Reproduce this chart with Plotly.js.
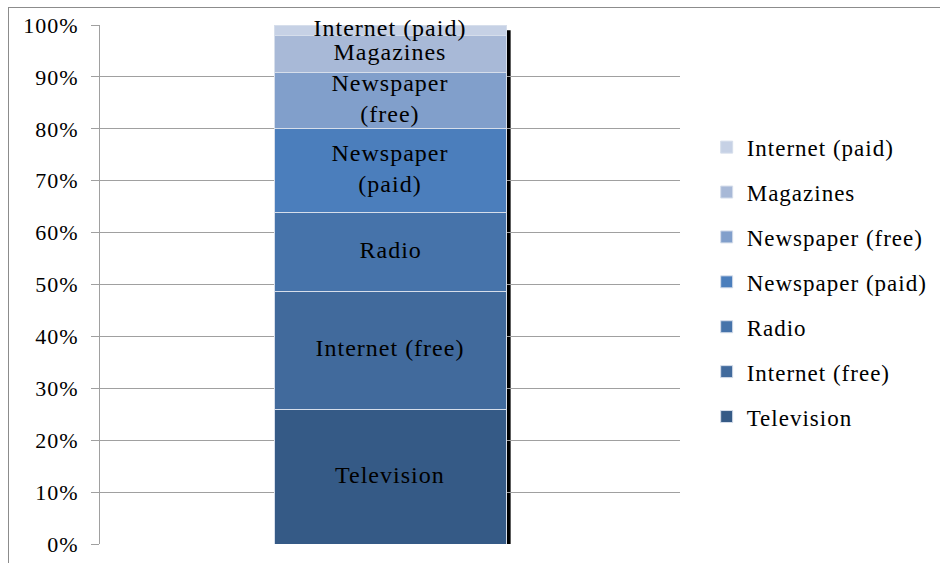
<!DOCTYPE html>
<html>
<head>
<meta charset="utf-8">
<script src="https://cdn.plot.ly/plotly-3.0.1.min.js"></script>
<style>
  html, body { margin: 0; padding: 0; background: #fff; }
  #chart { position: absolute; left: 0; top: 0; width: 940px; height: 563px; }
  #frame { position: absolute; left: 8px; top: 7px; width: 1000px; height: 1000px;
           border-left: 1px solid #8c8c8c; border-top: 1px solid #8c8c8c; pointer-events: none; }
  #chart text { font-family: "Liberation Serif", serif !important; letter-spacing: 1px; }
  #chart .legend .scrollbox, #chart .legend g { clip-path: none !important; }
</style>
</head>
<body>
<div id="chart"></div>
<div id="frame"></div>
<script>
const category = ['Media'];
const seriesNames = ['Television', 'Internet (free)', 'Radio', 'Newspaper (paid)', 'Newspaper (free)', 'Magazines', 'Internet (paid)'];
const barLabels = ['Television', 'Internet (free)', 'Radio', 'Newspaper<br>(paid)', 'Newspaper<br>(free)', 'Magazines', 'Internet (paid)'];
const seriesValues = [26.0, 22.7, 15.1, 16.2, 10.9, 7.0, 2.1];
const seriesColors = ['#355A86', '#416A9C', '#4673AA', '#4B7EBC', '#819FCB', '#A8B9D7', '#C6D1E5'];
const yTickVals = [0, 10, 20, 30, 40, 50, 60, 70, 80, 90, 100];

const FONT = 'Liberation Serif';

const traces = seriesNames.map((name, i) => ({
  type: 'bar',
  name: name,
  x: category,
  y: [seriesValues[i]],
  width: 0.4,
  legendgroup: name,
  legendrank: seriesNames.length - i,
  marker: { color: seriesColors[i], line: { color: '#D6DEEB', width: 1 } },
  hoverinfo: 'name+y'
}));

const annotations = [];
let cum = 0;
seriesValues.forEach((v, i) => {
  annotations.push({
    x: category[0], y: cum + v / 2, xref: 'x', yref: 'y',
    text: barLabels[i], showarrow: false, yshift: 2,
    font: { family: FONT, size: 24, color: '#000' },
    align: 'center'
  });
  cum += v;
});

const total = cum;
const shapes = [{
  type: 'rect', xref: 'x', yref: 'y', layer: 'below',
  x0: 0.2, x1: 0.208, y0: 0, y1: total - 1,
  fillcolor: '#000', line: { width: 0 }
}];

const layout = {
  width: 940, height: 563,
  font: { family: FONT },
  margin: { l: 100, r: 260, t: 25, b: 19, pad: 0 },
  paper_bgcolor: '#fff', plot_bgcolor: '#fff',
  barmode: 'stack',
  showlegend: true,
  legend: {
    x: 1.046, y: 0.806, xanchor: 'left', yanchor: 'top',
    traceorder: 'grouped', tracegroupgap: 12,
    bgcolor: 'rgba(0,0,0,0)',
    font: { family: FONT, size: 23, color: '#000' },
    itemwidth: 30
  },
  xaxis: {
    type: 'category', range: [-0.5, 0.5],
    showticklabels: false, ticks: '', showgrid: false, zeroline: false, showline: false, fixedrange: true
  },
  yaxis: {
    range: [0, 100], tickvals: yTickVals, ticktext: yTickVals.map(v => v + '%'),
    ticks: 'outside', ticklen: 8, tickcolor: '#A0A0A0', tickwidth: 1,
    showline: true, linecolor: '#A0A0A0', linewidth: 1,
    showgrid: true, gridcolor: '#A0A0A0', gridwidth: 1, zeroline: false,
    ticklabelstandoff: 8,
    tickfont: { family: FONT, size: 22, color: '#000' }, fixedrange: true
  },
  annotations: annotations,
  shapes: shapes
};

Plotly.newPlot('chart', traces, layout, { displayModeBar: false, staticPlot: true });
</script>
</body>
</html>
